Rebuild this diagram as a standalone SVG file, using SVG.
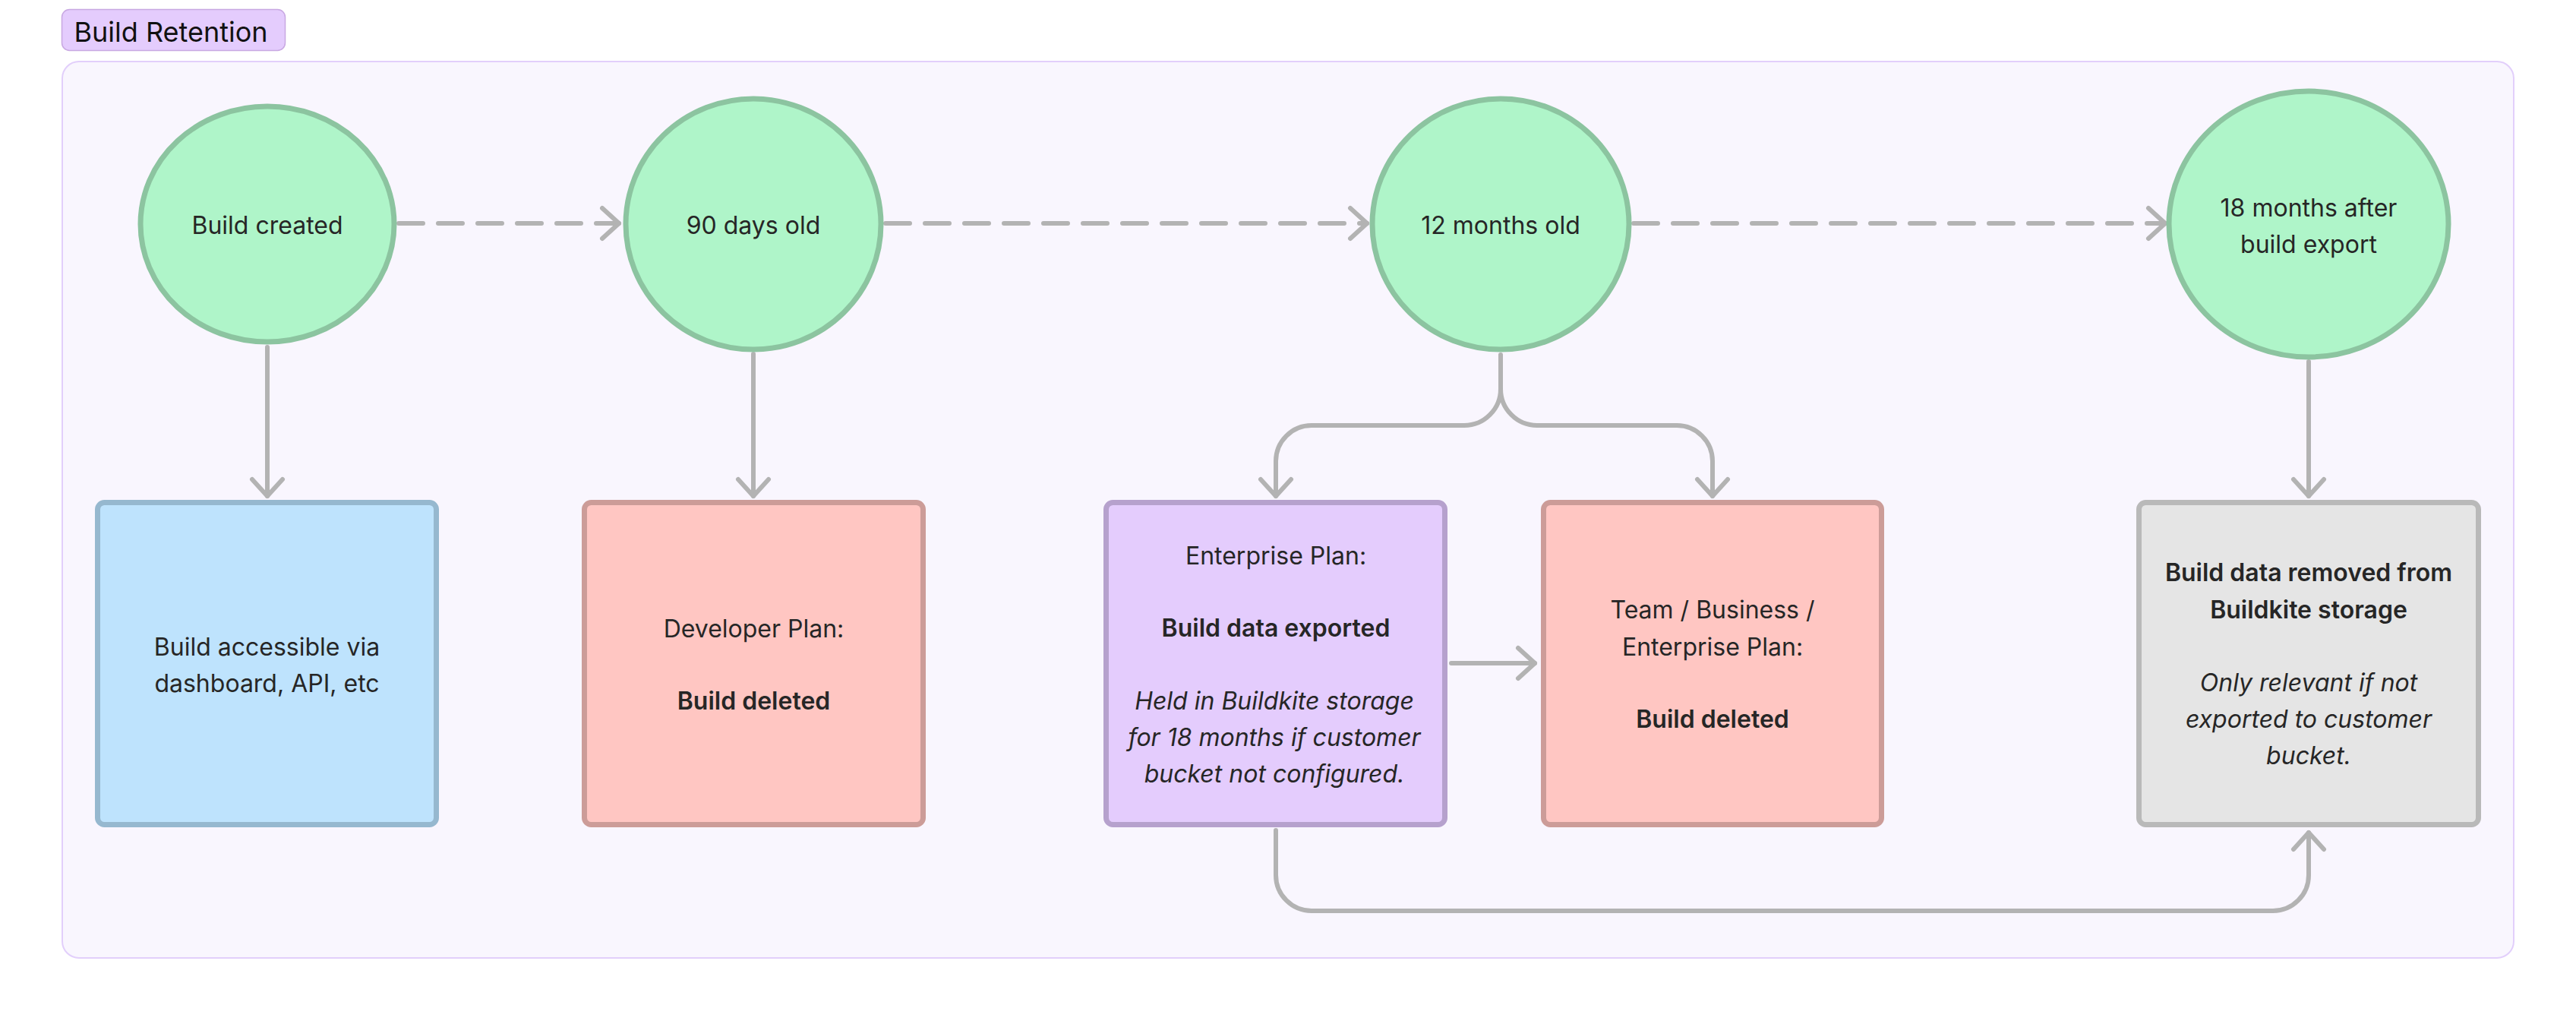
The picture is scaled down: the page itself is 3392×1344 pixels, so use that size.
<svg xmlns="http://www.w3.org/2000/svg" width="3392" height="1344" viewBox="0 0 3392 1344">
<style>
text{font-family:Inter,"Noto Sans","Liberation Sans",sans-serif;font-size:32px;fill:#262626;text-anchor:middle}
.b{font-weight:600}
.i{font-style:italic}
.circ{fill:#aff5c9;stroke:#8cc4a0;stroke-width:7}
.box{stroke-width:7}
.conn{fill:none;stroke:#b3b3b3;stroke-width:6;stroke-linecap:round;stroke-linejoin:round}
.dash{stroke-dasharray:32 20}
</style>
<defs>
<marker id="arr" viewBox="-30 -26 36 52" refX="0" refY="0" markerWidth="36" markerHeight="52" markerUnits="userSpaceOnUse" orient="auto">
<path d="M-22,-20 L0,0 L-22,20" fill="none" stroke="#b3b3b3" stroke-width="6" stroke-linecap="round" stroke-linejoin="round" stroke-dasharray="none"/>
</marker>
</defs>
<rect width="3392" height="1344" fill="#ffffff"/>
<g id="group-build-retention">
<rect x="82" y="81" width="3228" height="1180" rx="22" fill="#f9f6fe" stroke="#e2cffb" stroke-width="2"/>
<rect x="81.5" y="12.5" width="294" height="54" rx="10" fill="#e4ccfd" stroke="#c8a8e2" stroke-width="1.5"/>
<text x="225" y="55" style="font-size:36px;fill:#111">Build Retention</text>
</g>
<g id="connectors">
<path class="conn dash" d="M525,294 L815,294" marker-end="url(#arr)"/>
<path class="conn dash" d="M1166,294 L1800,294" marker-end="url(#arr)"/>
<path class="conn dash" d="M2151,294 L2851,294" marker-end="url(#arr)"/>
<path class="conn" d="M352,457 L352,653" marker-end="url(#arr)"/>
<path class="conn" d="M992,466 L992,653" marker-end="url(#arr)"/>
<path class="conn" d="M1976,467 L1976,512 A48,48 0 0 1 1928,560 L1727,560 A47,47 0 0 0 1680,607 L1680,653" marker-end="url(#arr)"/>
<path class="conn" d="M1976,512 A48,48 0 0 0 2024,560 L2208,560 A47,47 0 0 1 2255,607 L2255,653" marker-end="url(#arr)"/>
<path class="conn" d="M3040,476 L3040,653" marker-end="url(#arr)"/>
<path class="conn" d="M1911,873 L2021,873" marker-end="url(#arr)"/>
<path class="conn" d="M1680,1093 L1680,1152 A47,47 0 0 0 1727,1199 L2993,1199 A47,47 0 0 0 3040,1152 L3040,1096" marker-end="url(#arr)"/>
</g>
<g id="node-build-created">
<ellipse class="circ" cx="352" cy="295" rx="167" ry="155"/>
<text x="352" y="308">Build created</text>
</g>
<g id="node-90-days">
<ellipse class="circ" cx="992" cy="295" rx="168" ry="165"/>
<text x="992" y="308">90 days old</text>
</g>
<g id="node-12-months">
<ellipse class="circ" cx="1976" cy="295" rx="169" ry="165"/>
<text x="1976" y="308">12 months old</text>
</g>
<g id="node-18-months">
<ellipse class="circ" cx="3040" cy="295" rx="184" ry="175"/>
<text x="3040" y="285">18 months after</text>
<text x="3040" y="333">build export</text>
</g>
<g id="node-accessible">
<rect class="box" x="128.5" y="661.5" width="446" height="424" rx="9" fill="#bee3fd" stroke="#96b8cf"/>
<text x="351.5" y="863">Build accessible via</text>
<text x="351.5" y="911">dashboard, API, etc</text>
</g>
<g id="node-developer">
<rect class="box" x="769.5" y="661.5" width="446" height="424" rx="9" fill="#ffc6c2" stroke="#cc9c98"/>
<text x="992.5" y="839">Developer Plan:</text>
<text class="b" x="992.5" y="934">Build deleted</text>
</g>
<g id="node-enterprise-export">
<rect class="box" x="1456.5" y="661.5" width="446" height="424" rx="9" fill="#e4ccfd" stroke="#b6a1cd"/>
<text x="1680" y="743">Enterprise Plan:</text>
<text class="b" x="1680" y="838">Build data exported</text>
<text class="i" x="1678" y="934">Held in Buildkite storage</text>
<text class="i" x="1678" y="982">for 18 months if customer</text>
<text class="i" x="1678" y="1030">bucket not configured.</text>
</g>
<g id="node-team-deleted">
<rect class="box" x="2032.5" y="661.5" width="445" height="424" rx="9" fill="#ffc6c2" stroke="#cc9c98"/>
<text x="2255" y="814">Team / Business /</text>
<text x="2255" y="863">Enterprise Plan:</text>
<text class="b" x="2255" y="958">Build deleted</text>
</g>
<g id="node-removed">
<rect class="box" x="2816.5" y="661.5" width="447" height="424" rx="9" fill="#e5e5e5" stroke="#b9b9b9"/>
<text class="b" x="3040" y="765">Build data removed from</text>
<text class="b" x="3040" y="814">Buildkite storage</text>
<text class="i" x="3040" y="910">Only relevant if not</text>
<text class="i" x="3040" y="958">exported to customer</text>
<text class="i" x="3040" y="1006">bucket.</text>
</g>
</svg>
